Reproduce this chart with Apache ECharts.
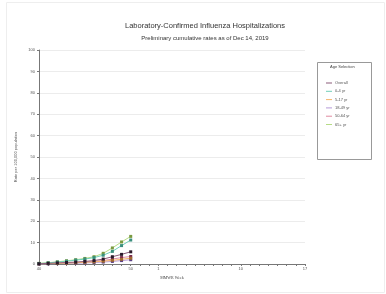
<!DOCTYPE html>
<html><head><meta charset="utf-8">
<script src="https://cdn.jsdelivr.net/npm/echarts@6/dist/echarts.min.js"></script>
<style>html,body{margin:0;padding:0;background:#fff}#c{width:386px;height:294px}</style>
</head><body><div id="c"></div>
<script>
const weeks = ['40','41','42','43','44','45','46','47','48','49','50','51','52','1','2','3','4','5','6','7','8','9','10','11','12','13','14','15','16','17'];
const shownWeekLabels = ['40','50','1','10','17'];
const yTicks = [0,10,20,30,40,50,60,70,80,90,100];
const seriesNames = ['Overall','0-4 yr','5-17 yr','18-49 yr','50-64 yr','65+ yr'];
const overall = [0.1,0.3,0.5,0.7,0.9,1.2,1.6,2.3,3.4,4.5,5.7];
const age0to4 = [0.2,0.5,0.9,1.3,1.8,2.3,3.0,4.1,5.9,8.6,11.2];
const age5to17 = [0.1,0.2,0.3,0.4,0.6,0.8,1.0,1.3,1.7,2.2,2.7];
const age18to49 = [0.0,0.1,0.2,0.3,0.4,0.5,0.7,0.9,1.2,1.6,2.0];
const age50to64 = [0.1,0.2,0.3,0.5,0.7,0.9,1.2,1.6,2.3,3.0,3.5];
const age65plus = [0.3,0.6,1.0,1.5,2.0,2.6,3.4,5.0,7.5,10.3,12.9];
const seriesValues = [overall, age0to4, age5to17, age18to49, age50to64, age65plus];
const colors = ['#8a5a78','#6fcfb8','#f4b46a','#b59ad8','#e08aa0','#b6dc86'];
const markerColors = ['#2a1a2a','#3a8f7e','#a06a30','#5b3f86','#7a2a50','#7a9a40'];

const chart = echarts.init(document.getElementById('c'), null, {renderer:'canvas'});
const series = seriesNames.map((n,i)=>({
  name:n, type:'line', data:seriesValues[i], smooth:false,
  symbol:'rect', symbolSize:3, showSymbol:true,
  lineStyle:{color:colors[i], width:1},
  itemStyle:{color:markerColors[i]},
  z: 10 - i
}));
chart.setOption({
  animation:false,
  backgroundColor:'#fff',
  title:[
    {text:'Laboratory-Confirmed Influenza Hospitalizations', left:200, top:17, textAlign:'center',
     textStyle:{fontSize:7.5, fontWeight:'normal', color:'#333', fontFamily:'Liberation Sans'}},
    {text:'Preliminary cumulative rates as of Dec 14, 2019', left:200, top:30, textAlign:'center',
     textStyle:{fontSize:6, fontWeight:'normal', color:'#333', fontFamily:'Liberation Sans'}}
  ],
  graphic:[
    {type:'rect', shape:{x:6.5,y:2.5,width:378,height:290}, style:{fill:'none', stroke:'#eeeeee', lineWidth:1}, silent:true},
    {type:'rect', shape:{x:317.5,y:62.5,width:54,height:97}, style:{fill:'#fff', stroke:'#999', lineWidth:1}, z:5},
    {type:'text', left:330, top:65, style:{text:'Age Selection', fontSize:4, fill:'#444', fontFamily:'Liberation Sans'}, z:6}
  ],
  legend:{
    orient:'vertical', left:321, top:76, itemWidth:6, itemHeight:1, itemGap:4.3,
    data:seriesNames.map((n,i)=>({name:n, icon:'rect', itemStyle:{color:colors[i]}})),
    textStyle:{fontSize:4, color:'#555', fontFamily:'Liberation Sans', padding:[0,0,0,-2]},
    z:7
  },
  grid:{left:39, right:81, top:50, bottom:30, containLabel:false},
  xAxis:{
    type:'category', data:weeks, boundaryGap:false,
    name:'MMWR Week', nameLocation:'middle', nameGap:11,
    nameTextStyle:{fontSize:4, color:'#444', fontFamily:'Liberation Serif'},
    axisLine:{lineStyle:{color:'#777', width:1}},
    axisTick:{show:true, length:2, interval:0, lineStyle:{color:'#777'}},
    axisLabel:{fontSize:4, color:'#555', margin:3, interval:0,
      formatter:v=>shownWeekLabels.includes(v)?v:''},
    splitLine:{show:false}
  },
  yAxis:{
    type:'value', min:0, max:100, interval:10,
    name:'Rate per 100,000 population', nameLocation:'middle', nameGap:14, nameRotate:90,
    nameTextStyle:{fontSize:4, color:'#555', fontFamily:'Liberation Sans'},
    axisLine:{show:true, lineStyle:{color:'#777', width:1}},
    axisTick:{show:true, length:2, lineStyle:{color:'#777'}},
    axisLabel:{fontSize:4, color:'#555', margin:4, formatter:v=>yTicks.includes(v)?String(v):''},
    splitLine:{lineStyle:{color:'#ececec', width:1}}
  },
  series:series
});
</script></body></html>
